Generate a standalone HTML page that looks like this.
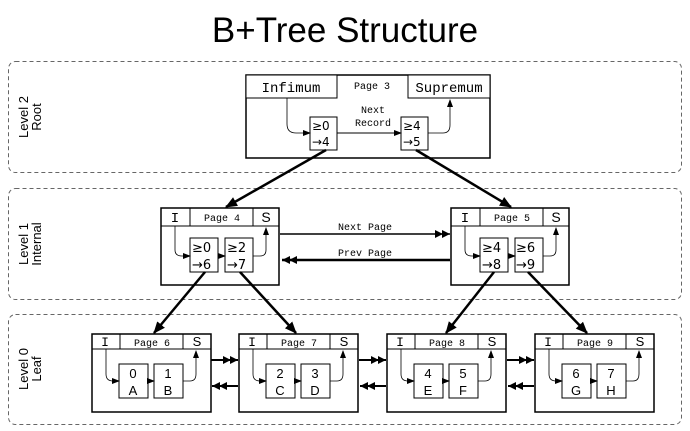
<!DOCTYPE html>
<html><head><meta charset="utf-8"><style>
html,body{margin:0;padding:0;background:#fff;}
svg{display:block;}
text{font-family:"Liberation Sans",sans-serif;fill:#000;}
.m{font-family:"Liberation Mono",monospace;}
.r{font-family:"DejaVu Sans",sans-serif;}
</style></head><body>
<svg width="690" height="431" viewBox="0 0 690 431" xmlns="http://www.w3.org/2000/svg">
<defs>
<marker id="a" markerWidth="8" markerHeight="8" refX="7" refY="4" orient="auto" markerUnits="userSpaceOnUse"><path d="M0,1 L8,4 L0,7 Z" fill="#000"/></marker>
<marker id="b" markerWidth="12" markerHeight="12" refX="11" refY="6" orient="auto" markerUnits="userSpaceOnUse"><path d="M0,1 L12,6 L0,11 Z" fill="#000"/></marker>
<marker id="d" markerWidth="16" markerHeight="10" refX="15" refY="5" orient="auto" markerUnits="userSpaceOnUse"><path d="M0,1 L8,5 L0,9 Z M7,1 L15,5 L7,9 Z" fill="#000"/></marker>
<g id="leaf">
<rect x="0" y="0" width="119" height="78" fill="#fff" stroke="#000" stroke-width="1.5"/>
<line x1="0" y1="15" x2="119" y2="15" stroke="#000"/>
<line x1="28" y1="0" x2="28" y2="15" stroke="#000"/>
<line x1="91" y1="0" x2="91" y2="15" stroke="#000"/>
<text x="13" y="12" class="m" font-size="13" text-anchor="middle" fill="#000">I</text>
<text x="105" y="12" font-size="13" text-anchor="middle">S</text>
<rect x="27" y="30" width="29" height="34" fill="#fff" stroke="#000"/>
<rect x="62" y="30" width="29" height="34" fill="#fff" stroke="#000"/>
<path d="M14,15 L14,40 Q14,47 21,47 L27,47" fill="none" stroke="#000" stroke-width="0.8" marker-end="url(#a)"/>
<path d="M56,47 L62,47" fill="none" stroke="#000" stroke-width="0.8" marker-end="url(#a)"/>
<path d="M91,47 L98,47 Q104,47 104,40 L104,17" fill="none" stroke="#000" stroke-width="0.8" marker-end="url(#a)"/>
</g>
<g id="int">
<rect x="0" y="0" width="118" height="77" fill="#fff" stroke="#000" stroke-width="1.5"/>
<line x1="0" y1="18" x2="118" y2="18" stroke="#000"/>
<line x1="29" y1="0" x2="29" y2="18" stroke="#000"/>
<line x1="92" y1="0" x2="92" y2="18" stroke="#000"/>
<text x="14" y="14" class="m" font-size="14" text-anchor="middle">I</text>
<text x="105" y="14" font-size="14" text-anchor="middle">S</text>
<rect x="29" y="30" width="28" height="34" fill="#fff" stroke="#000"/>
<rect x="64" y="30" width="28" height="34" fill="#fff" stroke="#000"/>
<path d="M14,18 L14,42 Q14,48 21,48 L29,48" fill="none" stroke="#000" stroke-width="0.8" marker-end="url(#a)"/>
<path d="M57,48 L64,48" fill="none" stroke="#000" stroke-width="0.8" marker-end="url(#a)"/>
<path d="M92,48 L99,48 Q105,48 105,42 L105,20" fill="none" stroke="#000" stroke-width="0.8" marker-end="url(#a)"/>
</g>
</defs>

<text x="345" y="42" font-size="35" text-anchor="middle">B+Tree Structure</text>

<rect x="8.5" y="61.5" width="673" height="111" rx="7" fill="none" stroke="#666" stroke-dasharray="4,3"/>
<rect x="8.5" y="188.5" width="673" height="111" rx="7" fill="none" stroke="#666" stroke-dasharray="4,3"/>
<rect x="8.5" y="314.5" width="673" height="110" rx="7" fill="none" stroke="#666" stroke-dasharray="4,3"/>
<text transform="translate(28,117) rotate(-90)" font-size="13" text-anchor="middle">Level 2</text>
<text transform="translate(41,117) rotate(-90)" font-size="13" text-anchor="middle">Root</text>
<text transform="translate(28,244) rotate(-90)" font-size="13" text-anchor="middle">Level 1</text>
<text transform="translate(41,244) rotate(-90)" font-size="13" text-anchor="middle">Internal</text>
<text transform="translate(28,369) rotate(-90)" font-size="13" text-anchor="middle">Level 0</text>
<text transform="translate(41,369) rotate(-90)" font-size="13" text-anchor="middle">Leaf</text>

<!-- Root -->
<rect x="246" y="75" width="244" height="83" fill="#fff" stroke="#000" stroke-width="1.5"/>
<rect x="246" y="75" width="91" height="23" fill="#fff" stroke="#000"/>
<rect x="408" y="75" width="82" height="23" fill="#fff" stroke="#000"/>
<text x="291" y="92" class="m" font-size="14" text-anchor="middle">Infimum</text>
<text x="449" y="92" class="m" font-size="14" text-anchor="middle">Supremum</text>
<text x="372" y="89" class="m" font-size="10" text-anchor="middle">Page 3</text>
<rect x="310" y="117" width="27" height="33" fill="#fff" stroke="#000"/>
<rect x="401" y="117" width="27" height="33" fill="#fff" stroke="#000"/>
<g class="r" font-size="12">
<text x="312" y="130" class="r">≥0</text><text x="312" y="146" class="r">→4</text>
<text x="403" y="130" class="r">≥4</text><text x="403" y="146" class="r">→5</text>
</g>
<text x="373" y="113" class="m" font-size="10" text-anchor="middle">Next</text>
<text x="373" y="126" class="m" font-size="10" text-anchor="middle">Record</text>
<path d="M337,133 L401,133" stroke="#000" fill="none" marker-end="url(#a)"/>
<path d="M287,98 L287,124 Q287,133 296,133 L310,133" fill="none" stroke="#000" stroke-width="0.8" marker-end="url(#a)"/>
<path d="M428,133 L443,133 Q450,133 450,125 L450,100" fill="none" stroke="#000" stroke-width="0.8" marker-end="url(#a)"/>

<line x1="326" y1="150" x2="226" y2="207" stroke="#000" stroke-width="2.5" marker-end="url(#b)"/>
<line x1="416" y1="150" x2="511" y2="207" stroke="#000" stroke-width="2.5" marker-end="url(#b)"/>

<use href="#int" x="161" y="208"/>
<use href="#int" x="451" y="208"/>
<text x="222" y="221" class="m" font-size="10" text-anchor="middle">Page 4</text>
<text x="512" y="221" class="m" font-size="10" text-anchor="middle">Page 5</text>
<g font-size="13">
<text x="192" y="252" class="r">≥0</text><text x="192" y="269" class="r">→6</text>
<text x="227" y="252" class="r">≥2</text><text x="227" y="269" class="r">→7</text>
<text x="482" y="252" class="r">≥4</text><text x="482" y="269" class="r">→8</text>
<text x="516" y="252" class="r">≥6</text><text x="516" y="269" class="r">→9</text>
</g>
<text x="365" y="230" class="m" font-size="10" text-anchor="middle">Next Page</text>
<text x="365" y="256" class="m" font-size="10" text-anchor="middle">Prev Page</text>
<line x1="280" y1="234" x2="450" y2="234" stroke="#000" stroke-width="1.5" marker-end="url(#d)"/>
<line x1="450" y1="260" x2="282" y2="260" stroke="#000" stroke-width="2.5" marker-end="url(#d)"/>

<line x1="205" y1="272" x2="154" y2="333" stroke="#000" stroke-width="2.5" marker-end="url(#b)"/>
<line x1="240" y1="272" x2="296" y2="333" stroke="#000" stroke-width="2.5" marker-end="url(#b)"/>
<line x1="494" y1="272" x2="446" y2="333" stroke="#000" stroke-width="2.5" marker-end="url(#b)"/>
<line x1="528" y1="272" x2="587" y2="333" stroke="#000" stroke-width="2.5" marker-end="url(#b)"/>

<use href="#leaf" x="92" y="334"/>
<use href="#leaf" x="239" y="334"/>
<use href="#leaf" x="387" y="334"/>
<use href="#leaf" x="535" y="334"/>
<g font-size="10" text-anchor="middle">
<text x="152" y="346" class="m">Page 6</text>
<text x="299" y="346" class="m">Page 7</text>
<text x="447" y="346" class="m">Page 8</text>
<text x="595" y="346" class="m">Page 9</text>
</g>
<g font-size="13" text-anchor="middle">
<text x="133" y="378">0</text><text x="133" y="395">A</text>
<text x="168" y="378">1</text><text x="168" y="395">B</text>
<text x="280" y="378">2</text><text x="280" y="395">C</text>
<text x="315" y="378">3</text><text x="315" y="395">D</text>
<text x="428" y="378">4</text><text x="428" y="395">E</text>
<text x="463" y="378">5</text><text x="463" y="395">F</text>
<text x="576" y="378">6</text><text x="576" y="395">G</text>
<text x="611" y="378">7</text><text x="611" y="395">H</text>
</g>
<g stroke="#000" stroke-width="2">
<line x1="211" y1="360" x2="238" y2="360" marker-end="url(#d)"/>
<line x1="238" y1="386" x2="212" y2="386" marker-end="url(#d)"/>
<line x1="359" y1="360" x2="386" y2="360" marker-end="url(#d)"/>
<line x1="386" y1="386" x2="360" y2="386" marker-end="url(#d)"/>
<line x1="507" y1="360" x2="534" y2="360" marker-end="url(#d)"/>
<line x1="534" y1="386" x2="508" y2="386" marker-end="url(#d)"/>
</g>
</svg>
</body></html>
